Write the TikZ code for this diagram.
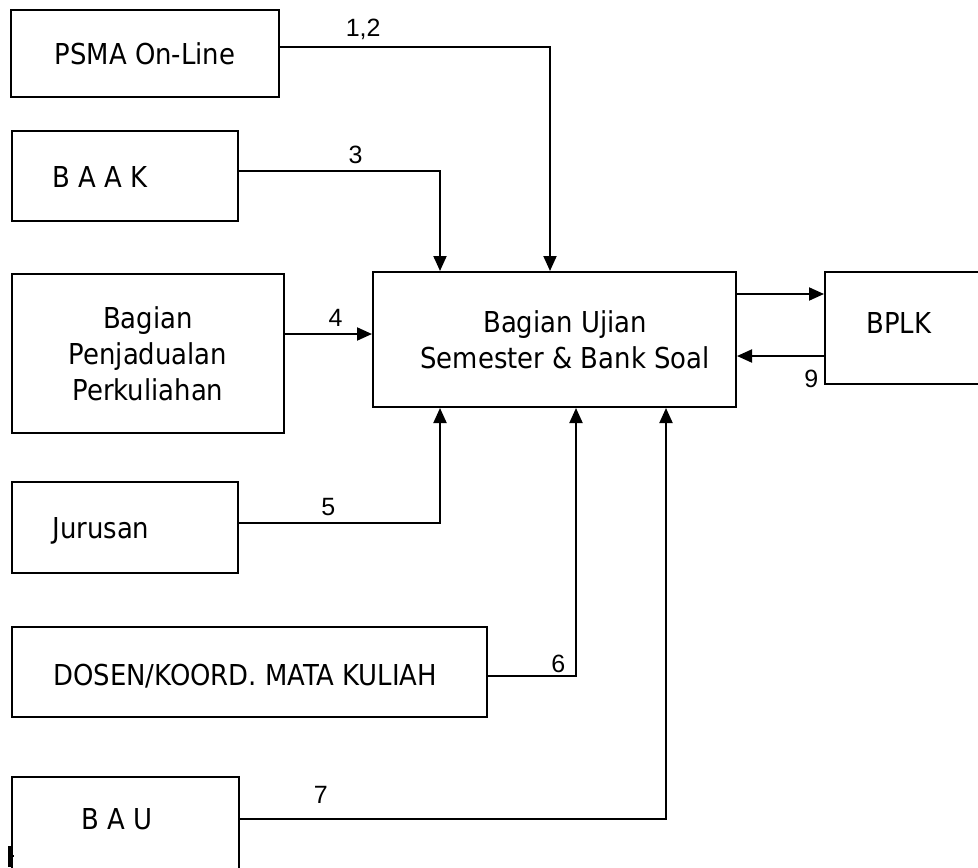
\documentclass[tikz,border=0pt]{standalone}
\usepackage{fontspec}
\newfontfamily\unitfont{DejaVu Sans Condensed}
\newfontfamily\numfont{Liberation Sans}
\usetikzlibrary{arrows.meta}

\tikzstyle{unittext}=[inner sep=0pt, align=center, font=\unitfont\fontsize{14.4}{18}\selectfont]
\tikzstyle{unitbox}=[unittext, rectangle, draw=black, line width=1pt]
\tikzstyle{flow}=[->, line width=1pt]
\tikzstyle{num}=[font=\numfont\fontsize{12.5}{15}\selectfont]

\begin{document}
\begin{tikzpicture}[x=0.5pt, y=-0.5pt, >={Triangle[length=7.5pt, width=6.5pt]}]
  \useasboundingbox (0,0) rectangle (978,867);

  % Units
  \node (psma) [unitbox, minimum width=134pt, minimum height=43.5pt] at (145,53.5) {PSMA On-Line};
  \node (baak) [unitbox, minimum width=113pt, minimum height=45pt] at (125,176) {};
  \node (penj) [unitbox, minimum width=136pt, minimum height=79.5pt] at (148,353.5) {Bagian\\Penjadualan\\Perkuliahan};
  \node (main) [unitbox, minimum width=181.5pt, minimum height=67.5pt] at (554.5,339.5) {};
  \node (bplk) [unitbox, minimum width=82.5pt, minimum height=56pt] at (907.5,328) {};
  \node (jur) [unitbox, minimum width=113pt, minimum height=45.5pt] at (125,527.5) {};
  \node (dosen) [unitbox, minimum width=237.5pt, minimum height=45pt] at (249.5,672) {};
  \node (bau) [unitbox, minimum width=113.5pt, minimum height=51.5pt] at (125.5,828.5) {};

  % Texts
  \node (maintxt) [unittext] at ([xshift=5.25pt]main.center) {Bagian Ujian\\Semester \& Bank Soal};
  \node (baaktxt) [unittext, anchor=base west] at ([xshift=20.5pt, yshift=-5.5pt]baak.west) {B A A K};
  \node (bplktxt) [unittext, anchor=base west] at ([xshift=21pt, yshift=-2.5pt]bplk.west) {BPLK};
  \node (jurtxt) [unittext, anchor=base west] at ([xshift=20.5pt, yshift=-5.25pt]jur.west) {Jurusan};
  \node (dosentxt) [unittext, anchor=base west] at ([xshift=21pt, yshift=-6.5pt]dosen.west) {DOSEN/KOORD. MATA KULIAH};
  \node (bautxt) [unittext, anchor=base west] at ([xshift=35pt, yshift=-0.25pt]bau.west) {B A U};

  % Flows
  \draw [flow] ([yshift=3.25pt]psma.east) -| node[num, pos=0.154, above] {1,2} ([xshift=89pt]main.north west);
  \draw [flow] ([yshift=2.5pt]baak.east) -| node[num, pos=0.29, above] {3} ([xshift=34pt]main.north west);
  \draw [flow] ([yshift=9.75pt]penj.east) -- node[num, pos=0.58, above] {4} ([yshift=2.75pt]main.west);
  \draw [flow] ([yshift=2.25pt]jur.east) -| node[num, pos=0.222, above] {5} ([xshift=34pt]main.south west);
  \draw [flow] ([yshift=-2pt]dosen.east) -| node[num, pos=0.4, above, inner sep=1pt] {6} ([xshift=102pt]main.south west);
  \draw [flow] ([yshift=4.75pt]bau.east) -| node[num, pos=0.095, above=4pt] {7} ([xshift=147pt]main.south west);
  \draw [flow] ([yshift=22.75pt]main.east) -- ([yshift=17pt]bplk.west);
  \draw [flow] ([yshift=-14pt]bplk.west) -- node[num, pos=0.146, below=3pt] {9} ([yshift=-8.25pt]main.east);

  % cursor mark
  \draw [line width=2pt] (9.5,846) -- (9.5,867);
  \draw [line width=0.6pt] (10,856) -- (13.5,856);
\end{tikzpicture}
\end{document}
